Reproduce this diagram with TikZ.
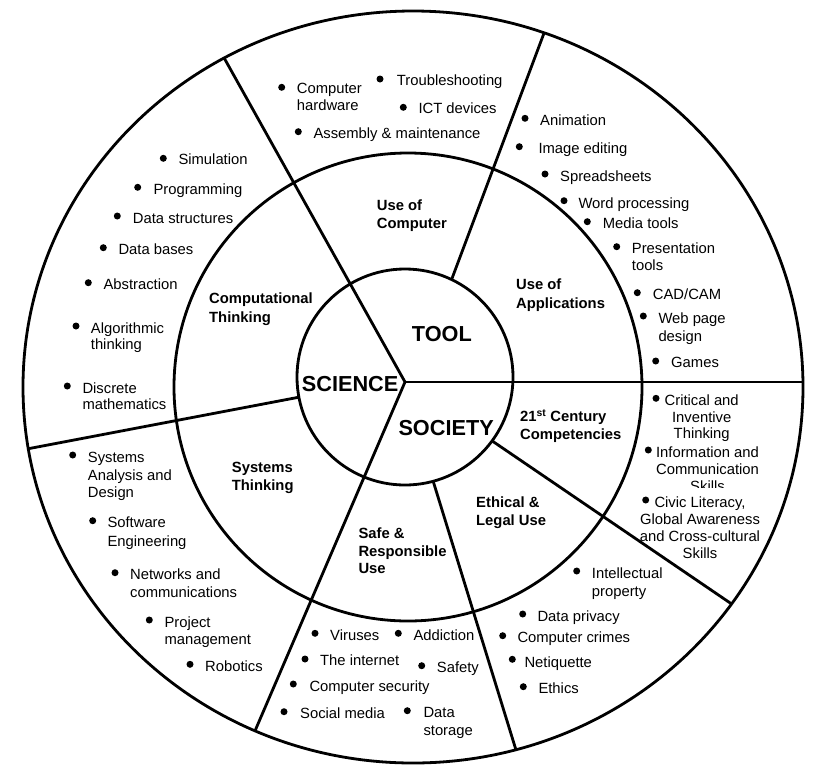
\documentclass[tikz,border=0pt]{standalone}
\usepackage{fontspec}
\setmainfont{Liberation Sans}
\tikzset{
  itm/.style={font=\fontsize{14.8}{17.5}\selectfont, inner sep=0pt, anchor=base west},
  itmc/.style={itm, anchor=base},
  lbl/.style={font=\bfseries\fontsize{14.8}{18}\selectfont, inner sep=0pt, anchor=base west},
  big/.style={font=\bfseries\fontsize{21.7}{26}\selectfont, inner sep=0pt, anchor=base west},
  ring/.style={line width=2.8pt},
  divider/.style={line width=2.8pt},
  bul/.style={fill=black},
}
\newcommand\myBitm[6]{\fill[bul] (#2,#3) circle[radius=3.5pt]; \node[itm] (#1) at (#4,#5) {#6};}
\newcommand\myTline[4]{\node[itm] (#1) at (#2,#3) {#4};}
\newcommand\myCline[4]{\node[itmc] (#1) at (#2,#3) {#4};}
\newcommand\myLline[4]{\node[lbl] (#1) at (#2,#3) {#4};}
\begin{document}
\begin{tikzpicture}[x=1pt,y=-1pt]
\useasboundingbox (0,0) rectangle (827,777);
\coordinate (O) at (413,387);
\coordinate (Mc) at (408,387);
\coordinate (Ic) at (405,377);
\coordinate (M) at (405,382);
% main dividers from the meeting point
\begin{scope}
  \clip (O) ellipse [x radius=390pt, y radius=376pt];
  \coordinate (e1) at (189,-5);
  \coordinate (e2) at (227,796);
  \coordinate (e3) at (830,382);
  \draw[divider] (e1) -- (M) -- (e2);
  \draw[divider] (M) -- (e3);
\end{scope}
% outer-ring dividers starting from the inner circle
\begin{scope}[even odd rule]
  \clip (O) ellipse [x radius=390pt, y radius=376pt] (Ic) circle [radius=108pt];
  \coordinate (e4) at (-10,456);
  \coordinate (s5) at (408.3,395);  \coordinate (e5) at (561.3,-13);
  \coordinate (s6) at (375.8,361.7); \coordinate (e6) at (798.8,649.7);
  \coordinate (s7) at (392.5,349.2); \coordinate (e7) at (531.3,799.7);
  \draw[divider] (Ic) -- (e4);
  \draw[divider] (s5) -- (e5);
  \draw[divider] (s6) -- (e6);
  \draw[divider] (s7) -- (e7);
\end{scope}
% rings
\draw[ring] (O) ellipse [x radius=390pt, y radius=376pt];
\draw[ring] (Mc) circle [radius=234pt];
\draw[ring] (Ic) circle [radius=108pt];
% centre labels
\node[big] (tool) at (411.7,341.7) {TOOL};
\node[big] (science) at (301.7,391.7) {SCIENCE};
\node[big] (society) at (398.3,435.7) {SOCIETY};
% middle ring labels
\myLline{uoc1}{376.7}{210.3}{Use of}
\myLline{uoc2}{376.7}{228.6}{Computer}
\myLline{uoa1}{516}{289.6}{Use of}
\myLline{uoa2}{516}{308}{Applications}
\myLline{ct1}{209}{303.6}{Computational}
\myLline{ct2}{209}{322}{Thinking}
\myLline{st1}{231.7}{472}{Systems}
\myLline{st2}{231.7}{490.3}{Thinking}
\myLline{sr1}{358.3}{538.6}{Safe \&}
\myLline{sr2}{358.3}{556}{Responsible}
\myLline{sr3}{358.3}{573.6}{Use}
\myLline{el1}{476}{507}{Ethical \&}
\myLline{el2}{476}{525.3}{Legal Use}
\myLline{cc1}{520}{421.3}{21\textsuperscript{st} Century}
\myLline{cc2}{520}{439.3}{Competencies}
% use of computer
\myBitm{hw}{281.7}{87.3}{296.7}{93.6}{Computer}
\myTline{hw2}{296.7}{110.3}{hardware}
\myBitm{trb}{380}{79}{396.7}{85.3}{Troubleshooting}
\myBitm{ict}{403.3}{107.3}{418.3}{113.6}{ICT devices}
\myBitm{asm}{298.3}{131.7}{313.3}{138}{Assembly \& maintenance}
% use of applications
\myBitm{anim}{525}{118.3}{540}{125.3}{Animation}
\myBitm{img}{519.3}{146.7}{538.3}{153.6}{Image editing}
\myBitm{spr}{545}{174}{560}{181}{Spreadsheets}
\myBitm{wrd}{564}{200.7}{578.3}{208}{Word processing}
\myBitm{med}{587.3}{221.7}{602.7}{228.6}{Media tools}
\myBitm{pres}{616.7}{246.7}{631.7}{253.6}{Presentation}
\myTline{pres2}{631.7}{270.3}{tools}
\myBitm{cad}{637.3}{292.7}{652.7}{299.6}{CAD/CAM}
\myBitm{web}{643.3}{316}{658.3}{323}{Web page}
\myTline{web2}{658.3}{341.3}{design}
\myBitm{gam}{655.7}{361}{671}{367.6}{Games}
% computational thinking
\myBitm{sim}{163.3}{158.3}{178.3}{164.6}{Simulation}
\myBitm{prg}{137.7}{187.3}{153.3}{194.3}{Programming}
\myBitm{dst}{117.3}{216}{132.7}{223}{Data structures}
\myBitm{dbs}{103.3}{247.7}{118.3}{254.6}{Data bases}
\myBitm{abs}{88.3}{282.7}{103.3}{289.6}{Abstraction}
\myBitm{alg}{76}{326}{90.7}{333}{Algorithmic}
\myTline{alg2}{90.7}{349.6}{thinking}
\myBitm{dis}{67.3}{386}{82.3}{393}{Discrete}
\myTline{dis2}{82.3}{409.6}{mathematics}
% systems thinking
\myBitm{sad}{72.7}{455}{87.7}{462}{Systems}
\myTline{sad2}{87.7}{480.3}{Analysis and}
\myTline{sad3}{87.7}{497}{Design}
\myBitm{swe}{92.7}{520.7}{107.3}{527.6}{Software}
\myTline{swe2}{107.3}{546}{Engineering}
\myBitm{net}{115}{572.7}{130}{579.3}{Networks and}
\myTline{net2}{130}{597}{communications}
\myBitm{pm}{149.3}{620}{164.3}{627}{Project}
\myTline{pm2}{164.3}{644.6}{management}
\myBitm{rob}{190}{664.3}{205}{671}{Robotics}
% safe and responsible use
\myBitm{vir}{315}{633.3}{330}{640.3}{Viruses}
\myBitm{add}{398.3}{633.3}{413.3}{640.3}{Addiction}
\myBitm{int}{305}{659}{320}{665.3}{The internet}
\myBitm{saf}{421.7}{665.7}{436.7}{672.6}{Safety}
\myBitm{csec}{293.3}{684}{309.3}{691}{Computer security}
\myBitm{soc}{284}{711.7}{300}{718.6}{Social media}
\myBitm{dsto}{407.3}{710.7}{423.3}{717.6}{Data}
\myTline{dsto2}{423.3}{735.3}{storage}
% ethical and legal use
\myBitm{ip}{576.7}{571}{591.7}{578}{Intellectual}
\myTline{ip2}{591.7}{596.3}{property}
\myBitm{dp}{522.7}{614}{537.3}{621.3}{Data privacy}
\myBitm{ccr}{502.7}{635.7}{517.3}{642}{Computer crimes}
\myBitm{neti}{512.3}{659.3}{524.3}{667}{Netiquette}
\myBitm{eth}{523.3}{686.7}{538.3}{693}{Ethics}
% 21st century competencies
\fill[bul] (656,398.3) circle[radius=3.5pt];
\myCline{cr1}{701.7}{405.3}{Critical and}
\myCline{cr2}{701.7}{422}{Inventive}
\myCline{cr3}{701.7}{438.6}{Thinking}
\fill[bul] (648.3,450) circle[radius=3.5pt];
\myCline{ic1}{707.5}{457}{Information and}
\myCline{ic2}{707.5}{474.6}{Communication}
\myCline{ic3}{707.5}{491}{Skills}
\fill[white] (640,488) rectangle (770,495);
\fill[bul] (645.7,500) circle[radius=3.5pt];
\myCline{cv1}{700}{507}{Civic Literacy,}
\myCline{cv2}{700}{524.6}{Global Awareness}
\myCline{cv3}{700}{541.3}{and Cross-cultural}
\myCline{cv4}{700}{558}{Skills}
\end{tikzpicture}
\end{document}
